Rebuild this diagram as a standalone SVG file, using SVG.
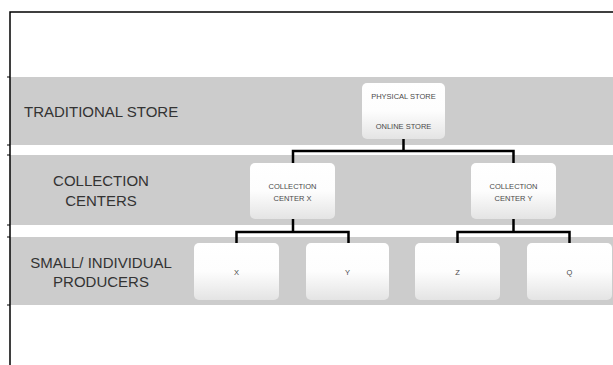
<svg xmlns="http://www.w3.org/2000/svg" width="613" height="365" viewBox="0 0 613 365">
<defs>
<linearGradient id="boxgrad" x1="0" y1="0" x2="0" y2="1">
<stop offset="0" stop-color="#ffffff"/>
<stop offset="0.5" stop-color="#fdfdfd"/>
<stop offset="1" stop-color="#e4e4e4"/>
</linearGradient>
<style>
.band{fill:#cccccc;}
.frame{stroke:#000;stroke-width:1.5;fill:none;}
.tick{stroke:#000;stroke-width:1;}
.box{fill:url(#boxgrad);}
.lab{font-family:"Liberation Sans",Arial,sans-serif;font-size:15px;fill:#333333;}
.bt{font-family:"Liberation Sans",Arial,sans-serif;font-size:7.5px;fill:#4a4a4a;text-anchor:middle;}
.conn{stroke:#000;stroke-width:2.5;fill:none;stroke-linejoin:miter;stroke-linecap:butt;}
</style>
</defs>
<rect width="613" height="365" fill="#ffffff"/>
<g id="bands">
<rect class="band" x="10" y="77" width="603" height="68"/>
<rect class="band" x="10" y="155" width="603" height="70"/>
<rect class="band" x="10" y="237" width="603" height="68"/>
</g>
<g id="frame">
<path class="frame" d="M10,365 V12 H613"/>
<path class="tick" d="M7,77H10M7,145H10M7,155H10M7,225H10M7,237H10M7,305H10"/>
</g>
<g id="row-labels">
<text class="lab" x="24" y="117">TRADITIONAL STORE</text>
<text class="lab" x="101" y="186" text-anchor="middle">COLLECTION</text>
<text class="lab" x="101" y="206" text-anchor="middle">CENTERS</text>
<text class="lab" x="101" y="268" text-anchor="middle">SMALL/ INDIVIDUAL</text>
<text class="lab" x="101" y="287" text-anchor="middle">PRODUCERS</text>
</g>
<g id="connectors">
<path class="conn" d="M403.5,139 V151 M293,163 V151 H513.5 V163"/>
<path class="conn" d="M293,219 V232 M236.5,243 V232 H348.5 V243"/>
<path class="conn" d="M513.5,219 V232 M457.5,243 V232 H569.5 V243"/>
</g>
<g id="node-store">
<rect class="box" x="362" y="83" width="83" height="56" rx="5"/>
<text class="bt" x="403.5" y="99">PHYSICAL STORE</text>
<text class="bt" x="403.5" y="129">ONLINE STORE</text>
</g>
<g id="node-ccx">
<rect class="box" x="250" y="163" width="85" height="56" rx="5"/>
<text class="bt" x="292.5" y="189">COLLECTION</text>
<text class="bt" x="292.5" y="201">CENTER X</text>
</g>
<g id="node-ccy">
<rect class="box" x="471" y="163" width="85" height="56" rx="5"/>
<text class="bt" x="513.5" y="189">COLLECTION</text>
<text class="bt" x="513.5" y="201">CENTER Y</text>
</g>
<g id="node-x">
<rect class="box" x="194" y="243" width="85" height="57" rx="5"/>
<text class="bt" x="236.5" y="275">X</text>
</g>
<g id="node-y">
<rect class="box" x="306" y="243" width="83" height="57" rx="5"/>
<text class="bt" x="347.5" y="275">Y</text>
</g>
<g id="node-z">
<rect class="box" x="415" y="243" width="85" height="57" rx="5"/>
<text class="bt" x="457.5" y="275">Z</text>
</g>
<g id="node-q">
<rect class="box" x="527" y="243" width="85" height="57" rx="5"/>
<text class="bt" x="569.5" y="275">Q</text>
</g>
</svg>
